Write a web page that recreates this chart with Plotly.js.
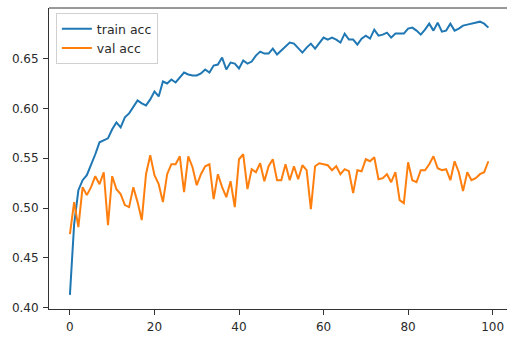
<!DOCTYPE html>
<html>
<head>
<meta charset="utf-8">
<script src="https://cdn.plot.ly/plotly-3.0.1.min.js"></script>
<style>html,body{margin:0;padding:0;background:#fff;}#chart{width:507px;height:337px;}</style>
</head>
<body>
<div id="chart"></div>
<script>
const epochs = Array.from({length: 100}, (_, i) => i);
const trainAcc = [
0.413,0.484,0.518,0.528,0.533,0.543,0.554,0.566,0.568,0.570,
0.579,0.586,0.581,0.591,0.595,0.601,0.608,0.605,0.603,0.609,
0.617,0.612,0.627,0.625,0.629,0.626,0.631,0.636,0.634,0.633,
0.633,0.635,0.639,0.636,0.643,0.644,0.651,0.639,0.646,0.645,
0.640,0.648,0.645,0.647,0.653,0.657,0.655,0.655,0.660,0.654,
0.658,0.662,0.666,0.665,0.661,0.656,0.661,0.665,0.660,0.666,
0.671,0.669,0.671,0.669,0.666,0.675,0.669,0.669,0.664,0.670,
0.673,0.670,0.679,0.673,0.674,0.676,0.671,0.675,0.675,0.675,
0.680,0.681,0.678,0.674,0.679,0.685,0.678,0.686,0.677,0.678,
0.685,0.678,0.680,0.683,0.684,0.685,0.686,0.687,0.685,0.681];
const valAcc = [
0.474,0.506,0.481,0.521,0.513,0.521,0.532,0.524,0.536,0.483,
0.532,0.519,0.514,0.503,0.501,0.521,0.506,0.488,0.534,0.553,
0.533,0.524,0.506,0.534,0.544,0.544,0.552,0.516,0.552,0.541,
0.523,0.534,0.542,0.544,0.509,0.534,0.521,0.511,0.527,0.501,
0.549,0.554,0.519,0.539,0.536,0.545,0.527,0.542,0.549,0.528,
0.528,0.544,0.528,0.542,0.529,0.543,0.538,0.499,0.542,0.545,
0.544,0.543,0.538,0.542,0.534,0.539,0.537,0.515,0.538,0.537,
0.549,0.547,0.551,0.529,0.530,0.534,0.526,0.536,0.508,0.505,
0.546,0.528,0.526,0.538,0.538,0.544,0.552,0.540,0.538,0.539,
0.528,0.547,0.536,0.517,0.536,0.528,0.530,0.534,0.536,0.547];
const seriesNames = ['train acc', 'val acc'];
const xTicks = [0, 20, 40, 60, 80, 100];
const yTicks = [0.40, 0.45, 0.50, 0.55, 0.60, 0.65];

const tickFont = {family: 'DejaVu Sans, sans-serif', size: 12, color: '#2a2a2a'};
const legendFont = {family: 'DejaVu Sans, sans-serif', size: 12.5, color: '#2a2a2a'};
const traces = [
  {x: epochs, y: trainAcc, name: seriesNames[0], type: 'scatter', mode: 'lines',
   line: {color: '#1f77b4', width: 2}},
  {x: epochs, y: valAcc, name: seriesNames[1], type: 'scatter', mode: 'lines',
   line: {color: '#ff7f0e', width: 2}}
];
const layout = {
  width: 507, height: 337,
  margin: {l: 49, r: 0, t: 8, b: 28},
  paper_bgcolor: '#fff', plot_bgcolor: '#fff',
  font: tickFont,
  showlegend: true,
  legend: {x: 0.015, y: 0.983, xanchor: 'left', yanchor: 'top',
    bgcolor: 'rgba(255,255,255,0.8)', bordercolor: '#d0d0d0', borderwidth: 1,
    font: legendFont, tracegroupgap: 0},
  xaxis: {range: [-4.95, 103.4], tickvals: xTicks, ticktext: xTicks.map(String),
    showgrid: false, zeroline: false, showline: true, linecolor: '#333', linewidth: 1,
    ticks: 'outside', ticklen: 5, tickcolor: '#333', tickfont: tickFont, ticklabelstandoff: 2},
  yaxis: {range: [0.3988, 0.7007], tickvals: yTicks, ticktext: yTicks.map(v => v.toFixed(2)),
    showgrid: false, zeroline: false, showline: true, linecolor: '#333', linewidth: 1,
    ticks: 'outside', ticklen: 5, tickcolor: '#333', tickfont: tickFont, ticklabelstandoff: 2},
  shapes: [{type: 'line', xref: 'paper', yref: 'paper', x0: 0, x1: 1, y0: 1, y1: 1,
    line: {color: '#333', width: 1}}]
};
Plotly.newPlot('chart', traces, layout, {displayModeBar: false, staticPlot: true});
</script>
</body>
</html>
